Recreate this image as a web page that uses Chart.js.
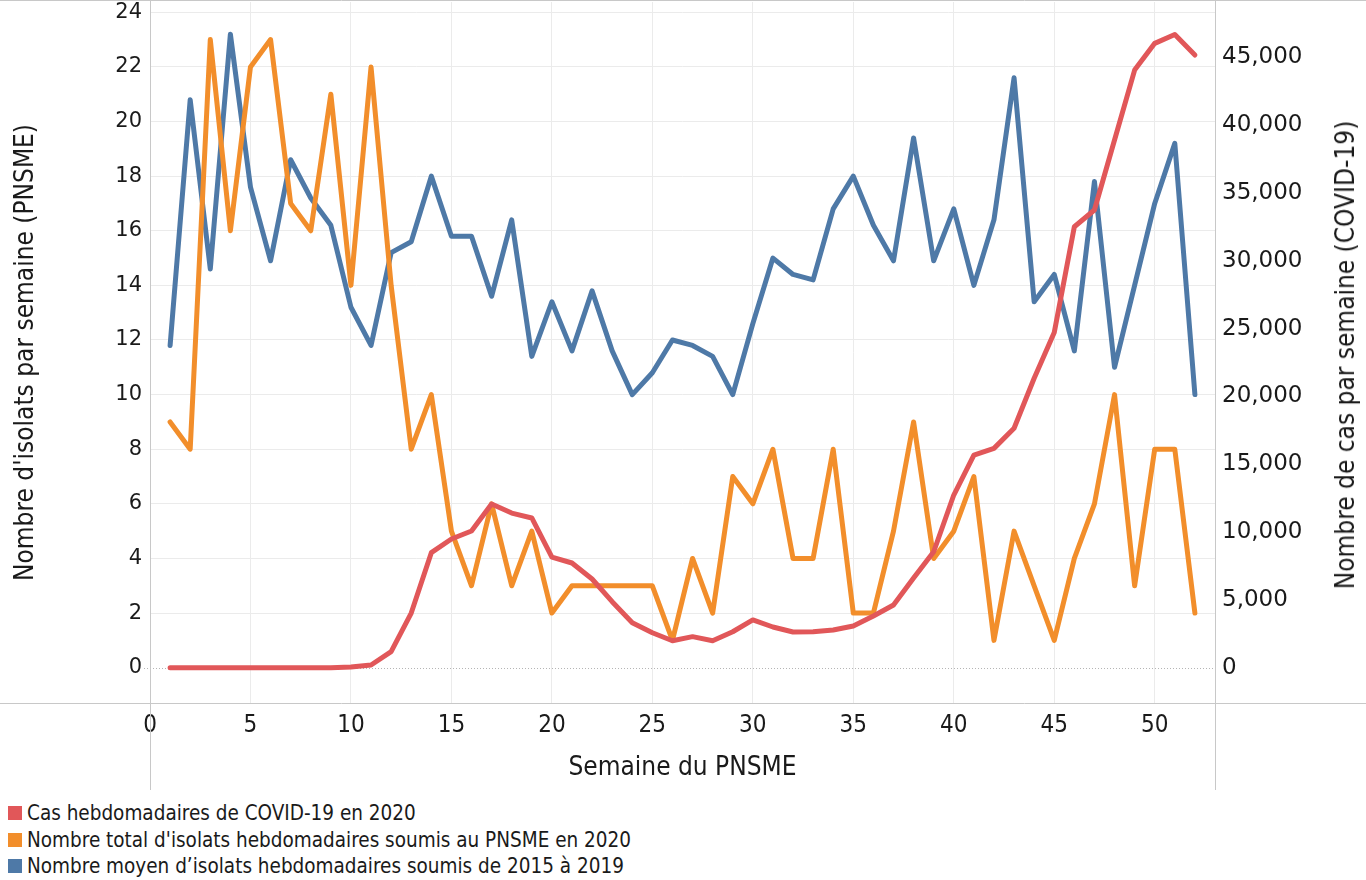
<!DOCTYPE html>
<html>
<head>
<meta charset="utf-8">
<script src="https://cdn.jsdelivr.net/npm/chart.js@4/dist/chart.umd.min.js"></script>
<style>
html,body{margin:0;padding:0;background:#fff;}
#wrap{position:relative;width:1366px;height:880px;overflow:hidden;background:#fff;}
#c{position:absolute;left:0;top:0;}
.cond{font-family:"DejaVu Sans Condensed","Liberation Sans Narrow","Roboto Condensed","DejaVu Sans",sans-serif;}
#rtitle{position:absolute;left:1345px;top:355px;transform:translate(-50%,-50%) rotate(-90deg);white-space:nowrap;font-size:26px;color:#1a1a1a;}
#legend{position:absolute;left:8px;top:800px;font-size:20.5px;color:#1a1a1a;}
.li{height:26.5px;display:flex;align-items:center;white-space:nowrap;}
.sw{width:14px;height:14px;margin-right:5px;flex:none;}
</style>
</head>
<body>
<div id="wrap">
  <canvas id="c" width="1366" height="795"></canvas>
  <div id="rtitle" class="cond">Nombre de cas par semaine (COVID-19)</div>
  <div id="legend" class="cond"></div>
</div>
<script>
const weeks = [1,2,3,4,5,6,7,8,9,10,11,12,13,14,15,16,17,18,19,20,21,22,23,24,25,26,27,28,29,30,31,32,33,34,35,36,37,38,39,40,41,42,43,44,45,46,47,48,49,50,51,52];

const covidCases = [0,0,0,0,0,0,0,0,0,50,200,1180,4030,8480,9490,10080,12070,11400,11040,8160,7720,6540,4870,3320,2580,1990,2290,1990,2650,3520,3000,2630,2650,2780,3070,3810,4620,6610,8550,12730,15680,16170,17650,21340,24710,32510,33740,38900,44060,46030,46680,45170];

const isolates2020 = [9,8,23,16,22,23,17,16,21,14,22,14,8,10,5,3,6,3,5,2,3,3,3,3,3,1,4,2,7,6,8,4,4,8,2,2,5,9,4,5,7,1,5,3,1,4,6,10,3,8,8,2];

const avgIsolates2015to2019 = [11.8,20.8,14.6,23.2,17.6,14.9,18.6,17.2,16.2,13.2,11.8,15.2,15.6,18.0,15.8,15.8,13.6,16.4,11.4,13.4,11.6,13.8,11.6,10.0,10.8,12.0,11.8,11.4,10.0,12.6,15.0,14.4,14.2,16.8,18.0,16.2,14.9,19.4,14.9,16.8,14.0,16.4,21.6,13.4,14.4,11.6,17.8,11.0,14.0,17.0,19.2,10.0];

const xTicks = [0,5,10,15,20,25,30,35,40,45,50];
const leftTicks = [0,2,4,6,8,10,12,14,16,18,20,22,24];
const rightTicks = [0,5000,10000,15000,20000,25000,30000,35000,40000,45000];

const seriesNames = [
  "Cas hebdomadaires de COVID-19 en 2020",
  "Nombre total d'isolats hebdomadaires soumis au PNSME en 2020",
  "Nombre moyen d\u2019isolats hebdomadaires soumis de 2015 à 2019"
];
const seriesColors = ["#e15759", "#f28e2b", "#4e79a7"];

const xTitle = "Semaine du PNSME";
const leftTitle = "Nombre d'isolats par semaine (PNSME)";

const COND = '"DejaVu Sans Condensed","Liberation Sans Narrow","Roboto Condensed","DejaVu Sans",sans-serif';
const WIDE = '"DejaVu Sans","Verdana",sans-serif';
const TXT = '#1a1a1a';
const GRID = '#ebebeb';
const FRAME = '#c8c8c8';

// legend (HTML)
const leg = document.getElementById('legend');
seriesNames.forEach((n, i) => {
  const d = document.createElement('div'); d.className = 'li';
  const s = document.createElement('span'); s.className = 'sw'; s.style.background = seriesColors[i];
  const t = document.createElement('span'); t.textContent = n;
  d.appendChild(s); d.appendChild(t); leg.appendChild(d);
});

const toXY = arr => weeks.map((w, i) => ({x: w, y: arr[i]}));

const framePlugin = {
  id: 'frame',
  beforeDatasetsDraw(chart) {
    const ctx = chart.ctx, ca = chart.chartArea;
    ctx.save();
    const y0 = Math.round(chart.scales.yL.getPixelForValue(0)) + 0.5;
    ctx.strokeStyle = '#b5b5b5'; ctx.lineWidth = 1; ctx.setLineDash([1, 2]);
    ctx.beginPath(); ctx.moveTo(ca.left - 6, y0); ctx.lineTo(ca.right, y0); ctx.stroke();
    ctx.setLineDash([]);
    ctx.strokeStyle = FRAME; ctx.lineWidth = 1;
    ctx.beginPath();
    ctx.moveTo(0, 0.5); ctx.lineTo(1366, 0.5);
    ctx.moveTo(0, Math.round(ca.bottom) + 0.5); ctx.lineTo(1366, Math.round(ca.bottom) + 0.5);
    ctx.moveTo(Math.round(ca.left) + 0.5, 0); ctx.lineTo(Math.round(ca.left) + 0.5, 790);
    ctx.moveTo(Math.round(ca.right) + 0.5, 0); ctx.lineTo(Math.round(ca.right) + 0.5, 790);
    ctx.stroke();
    ctx.restore();
  }
};

const fixTicks = list => axis => { axis.ticks = list.map(v => ({value: v})); };
const noPad = s => { s.paddingTop = 0; s.paddingBottom = 0; s.paddingLeft = 0; s.paddingRight = 0; };

const ds = (i, arr, axis) => ({
  label: seriesNames[i],
  data: toXY(arr),
  yAxisID: axis,
  borderColor: seriesColors[i],
  backgroundColor: seriesColors[i],
  borderWidth: 5,
  pointRadius: 0,
  pointHoverRadius: 0,
  tension: 0,
  borderJoinStyle: 'round',
  borderCapStyle: 'round',
  fill: false
});

new Chart(document.getElementById('c'), {
  type: 'line',
  data: {
    datasets: [
      ds(0, covidCases, 'yR'),
      ds(1, isolates2020, 'yL'),
      ds(2, avgIsolates2015to2019, 'yL')
    ]
  },
  options: {
    responsive: false,
    animation: false,
    layout: {padding: {top: 2, left: 0, right: 0, bottom: 0}},
    plugins: {legend: {display: false}, tooltip: {enabled: false}},
    scales: {
      x: {
        type: 'linear', min: 0, max: 53,
        afterBuildTicks: fixTicks(xTicks),
        afterFit: s => { s.height = 92; noPad(s); },
        grid: {color: c => (c.tick && c.tick.value === 0) ? 'rgba(0,0,0,0)' : GRID, drawTicks: false},
        border: {display: false},
        ticks: {font: {family: COND, size: 24}, color: TXT, padding: 8.5, maxRotation: 0, autoSkip: false},
        title: {display: true, text: xTitle, font: {family: COND, size: 26}, color: TXT, padding: {top: 0, bottom: 11.4}}
      },
      yL: {
        type: 'linear', position: 'left', min: -1.293, max: 24.377,
        afterBuildTicks: fixTicks(leftTicks),
        afterFit: s => { s.width = 150; noPad(s); },
        grid: {color: c => (c.tick && c.tick.value === 0) ? 'rgba(0,0,0,0)' : GRID, drawTicks: false},
        border: {display: false},
        ticks: {font: {family: WIDE, size: 21}, color: TXT, padding: 8, autoSkip: false},
        title: {display: true, text: leftTitle, font: {family: COND, size: 26}, color: TXT, padding: {top: 10.4, bottom: 0}}
      },
      yR: {
        type: 'linear', position: 'right', min: -2602, max: 49078,
        afterBuildTicks: fixTicks(rightTicks),
        afterFit: s => { s.width = 151; noPad(s); },
        grid: {drawOnChartArea: false, drawTicks: false},
        border: {display: false},
        ticks: {font: {family: WIDE, size: 23}, color: TXT, padding: 7, autoSkip: false,
                callback: v => Number(v).toLocaleString('en-US')}
      }
    }
  },
  plugins: [framePlugin]
});
</script>
</body>
</html>
